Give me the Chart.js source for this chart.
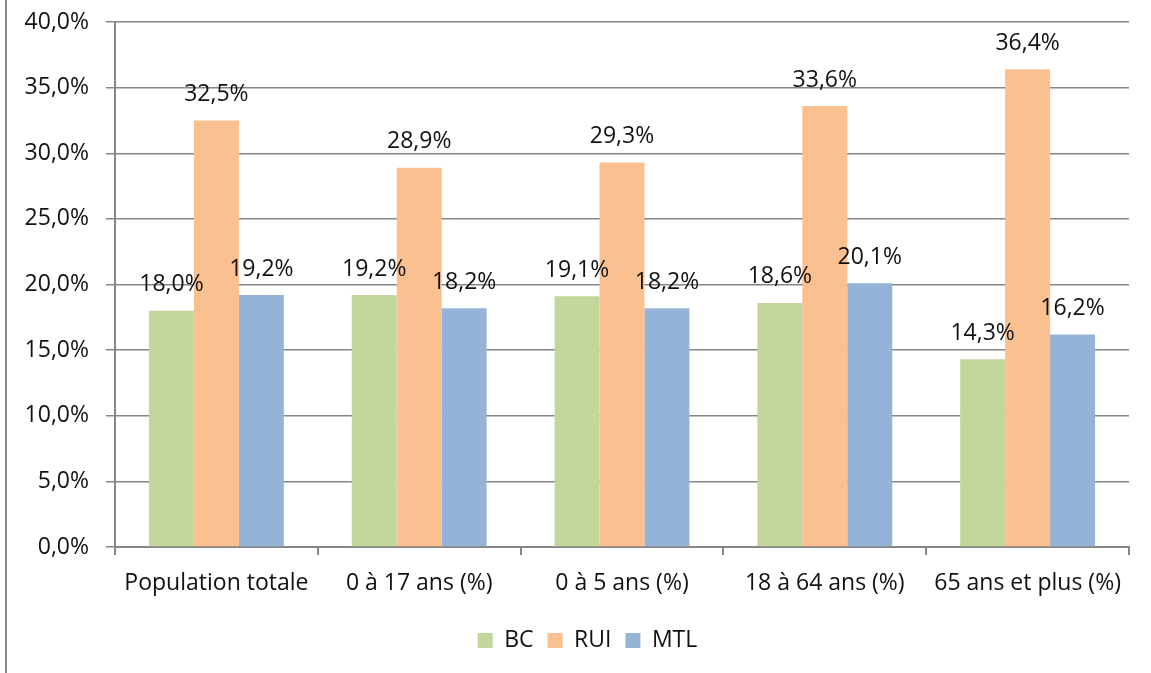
<!DOCTYPE html>
<html>
<head>
<meta charset="utf-8">
<script src="https://cdn.jsdelivr.net/npm/chart.js@4/dist/chart.umd.min.js"></script>
<style>
  html, body { margin: 0; padding: 0; background: #fff; }
  #wrap { position: relative; width: 1151px; height: 673px; }
  #frame { position: absolute; left: 5px; top: 0; width: 2px; height: 673px; background: #8c8c8c; }
</style>
</head>
<body>
<div id="wrap">
  <div id="frame"></div>
  <canvas id="chart" width="1151" height="673"></canvas>
</div>
<script>
const categories = [
  'Population totale',
  '0 à 17 ans (%)',
  '0 à 5 ans (%)',
  '18 à 64 ans (%)',
  '65 ans et plus (%)',
]
const bcValues = [18.0, 19.2, 19.1, 18.6, 14.3]
const ruiValues = [32.5, 28.9, 29.3, 33.6, 36.4]
const mtlValues = [19.2, 18.2, 18.2, 20.1, 16.2]

const fontFamily = '"Open Sans", sans-serif'
const fontSize = 23
const gridColor = '#868686'

function pct (v) {
  return v.toFixed(1).replace('.', ',') + '%'
}

// valeurs affichées au-dessus des barres
const barLabels = {
  id: 'barLabels',
  afterLayout (chart) {
    // légende un peu décalée vers la droite
    chart.legend.left += 12
    chart.legend.right += 12
  },
  afterDatasetsDraw (chart) {
    const ctx = chart.ctx
    ctx.save()
    ctx.font = fontSize + 'px ' + fontFamily
    ctx.fillStyle = '#111'
    ctx.textAlign = 'center'
    ctx.textBaseline = 'middle'
    chart.data.datasets.forEach(function (ds, i) {
      const meta = chart.getDatasetMeta(i)
      meta.data.forEach(function (bar, j) {
        ctx.fillText(pct(ds.data[j]), bar.x, bar.y - 26)
      })
    })
    ctx.restore()
  },
}

const config = {
  type: 'bar',
  data: {
    labels: categories,
    datasets: [
      { label: 'BC', data: bcValues, backgroundColor: '#c3d69b' },
      { label: 'RUI', data: ruiValues, backgroundColor: '#fac090' },
      { label: 'MTL', data: mtlValues, backgroundColor: '#95b3d7' },
    ],
  },
  options: {
    responsive: false,
    animation: false,
    layout: {
      padding: { left: 22, right: 22, top: 22, bottom: 11 },
    },
    datasets: {
      bar: {
        barPercentage: 1,
        categoryPercentage: 0.665,
      },
    },
    plugins: {
      legend: {
        position: 'bottom',
        labels: {
          boxWidth: 15,
          boxHeight: 15,
          padding: 14,
          color: '#111',
          font: { family: fontFamily, size: fontSize },
        },
      },
      tooltip: { enabled: false },
    },
    scales: {
      x: {
        afterFit (scale) {
          scale.height = 68
          scale.paddingLeft = 0
          scale.paddingRight = 0
        },
        grid: {
          display: true,
          drawOnChartArea: false,
          color: gridColor,
          tickLength: 8,
          lineWidth: 2,
        },
        border: { color: gridColor, width: 2 },
        ticks: {
          padding: 15,
          color: '#111',
          font: { family: fontFamily, size: fontSize },
        },
      },
      y: {
        min: 0,
        max: 40,
        afterFit (scale) {
          scale.width = 93
          scale.paddingTop = 0
          scale.paddingBottom = 0
        },
        grid: {
          color: gridColor,
          tickLength: 9,
          lineWidth: 1.5,
        },
        border: { color: gridColor, width: 2 },
        ticks: {
          stepSize: 5,
          padding: 17,
          color: '#111',
          font: { family: fontFamily, size: fontSize },
          callback: function (v) { return pct(v) },
        },
      },
    },
  },
  plugins: [barLabels],
}

const ctx = document.getElementById('chart').getContext('2d')
const myChart = new Chart(ctx, config)
</script>
</body>
</html>
